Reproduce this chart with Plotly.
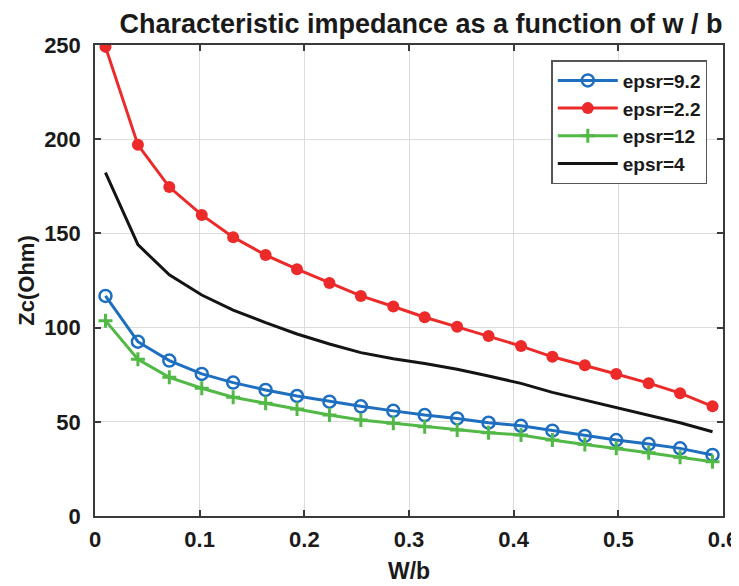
import plotly.graph_objects as go

w_over_b = [0.010, 0.041, 0.071, 0.102, 0.132, 0.163, 0.193, 0.224, 0.254, 0.285,
            0.315, 0.346, 0.376, 0.407, 0.437, 0.468, 0.498, 0.529, 0.559, 0.590]

zc_eps_9_2 = [116.8, 92.5, 82.5, 75.4, 70.8, 66.9, 63.7, 60.7, 58.2, 55.8,
              53.6, 51.8, 49.5, 47.9, 45.3, 42.5, 40.3, 38.2, 35.9, 32.4]
zc_eps_2_2 = [249.0, 197.0, 174.6, 159.8, 148.0, 138.5, 131.0, 123.7, 116.8, 111.2,
              105.5, 100.4, 95.5, 90.2, 84.5, 80.0, 75.4, 70.5, 65.2, 58.2]
zc_eps_12 = [103.7, 83.2, 73.6, 67.8, 63.0, 59.8, 56.8, 53.6, 51.0, 49.2,
             47.4, 45.6, 44.2, 43.0, 40.3, 38.0, 35.9, 33.6, 31.2, 28.8]
zc_eps_4 = [182.2, 144.0, 128.0, 117.3, 109.3, 102.6, 96.6, 91.3, 86.7, 83.5,
            81.0, 77.9, 74.3, 70.4, 65.6, 61.6, 57.5, 53.6, 49.5, 44.7]

series_names = ["epsr=9.2", "epsr=2.2", "epsr=12", "epsr=4"]
x_ticks = [0, 0.1, 0.2, 0.3, 0.4, 0.5, 0.6]
x_tick_text = ["0", "0.1", "0.2", "0.3", "0.4", "0.5", "0.6"]
y_ticks = [0, 50, 100, 150, 200, 250]

FONT = "Liberation Sans"
BLUE = "#1f6fc0"
RED = "#ec2a2a"
GREEN = "#52b947"
BLACK = "#141414"
TXT = "#1a1a1a"

fig = go.Figure()
fig.add_trace(go.Scatter(
    x=w_over_b, y=zc_eps_9_2, name=series_names[0], mode="lines+markers",
    line=dict(color=BLUE, width=3),
    marker=dict(symbol="circle-open", size=12, color=BLUE, line=dict(width=2.5, color=BLUE))))
fig.add_trace(go.Scatter(
    x=w_over_b, y=zc_eps_2_2, name=series_names[1], mode="lines+markers",
    line=dict(color=RED, width=3),
    marker=dict(symbol="circle", size=12, color=RED)))
fig.add_trace(go.Scatter(
    x=w_over_b, y=zc_eps_12, name=series_names[2], mode="lines+markers",
    line=dict(color=GREEN, width=3),
    marker=dict(symbol="cross-thin", size=10, color=GREEN, line=dict(width=3, color=GREEN))))
fig.add_trace(go.Scatter(
    x=w_over_b, y=zc_eps_4, name=series_names[3], mode="lines",
    line=dict(color=BLACK, width=3)))

axis_common = dict(
    showgrid=True, gridcolor="#dcdcdc", gridwidth=1,
    showline=True, linecolor="#3a3a3a", linewidth=1.5, mirror="ticks",
    ticks="inside", ticklen=6, tickwidth=1.5, tickcolor="#3a3a3a",
    zeroline=False, ticklabeloverflow="allow",
    tickfont=dict(family=FONT, size=22, color=TXT, weight="bold"),
)

# the page body adds an 8px margin, so the figure is 8px smaller and offset
fig.update_layout(
    width=731, height=578,
    paper_bgcolor="white", plot_bgcolor="white",
    margin=dict(l=87, r=16, t=37, b=70, autoexpand=False),
    title=dict(text="Characteristic impedance as a function of w / b",
               x=0.565, xanchor="center", y=0.973, yanchor="middle",
               font=dict(family=FONT, size=27, color=TXT, weight="bold")),
    xaxis=dict(range=[0, 0.6], tickvals=x_ticks, ticktext=x_tick_text,
               ticklabelstandoff=3,
               title=dict(text="W/b", standoff=12,
                          font=dict(family=FONT, size=23, color=TXT, weight="bold")),
               **axis_common),
    yaxis=dict(range=[0, 250], tickvals=y_ticks, ticklabelstandoff=8,
               title=dict(text="Zc(Ohm)", standoff=3,
                          font=dict(family=FONT, size=22, color=TXT, weight="bold")),
               **axis_common),
    legend=dict(x=0.975, y=0.968, xanchor="right", yanchor="top",
                bgcolor="white", bordercolor="#555555", borderwidth=1.5,
                itemwidth=60, tracegroupgap=0,
                font=dict(family=FONT, size=19, color=TXT, weight="bold")),
    showlegend=True,
)

fig.write_html("out.html")
